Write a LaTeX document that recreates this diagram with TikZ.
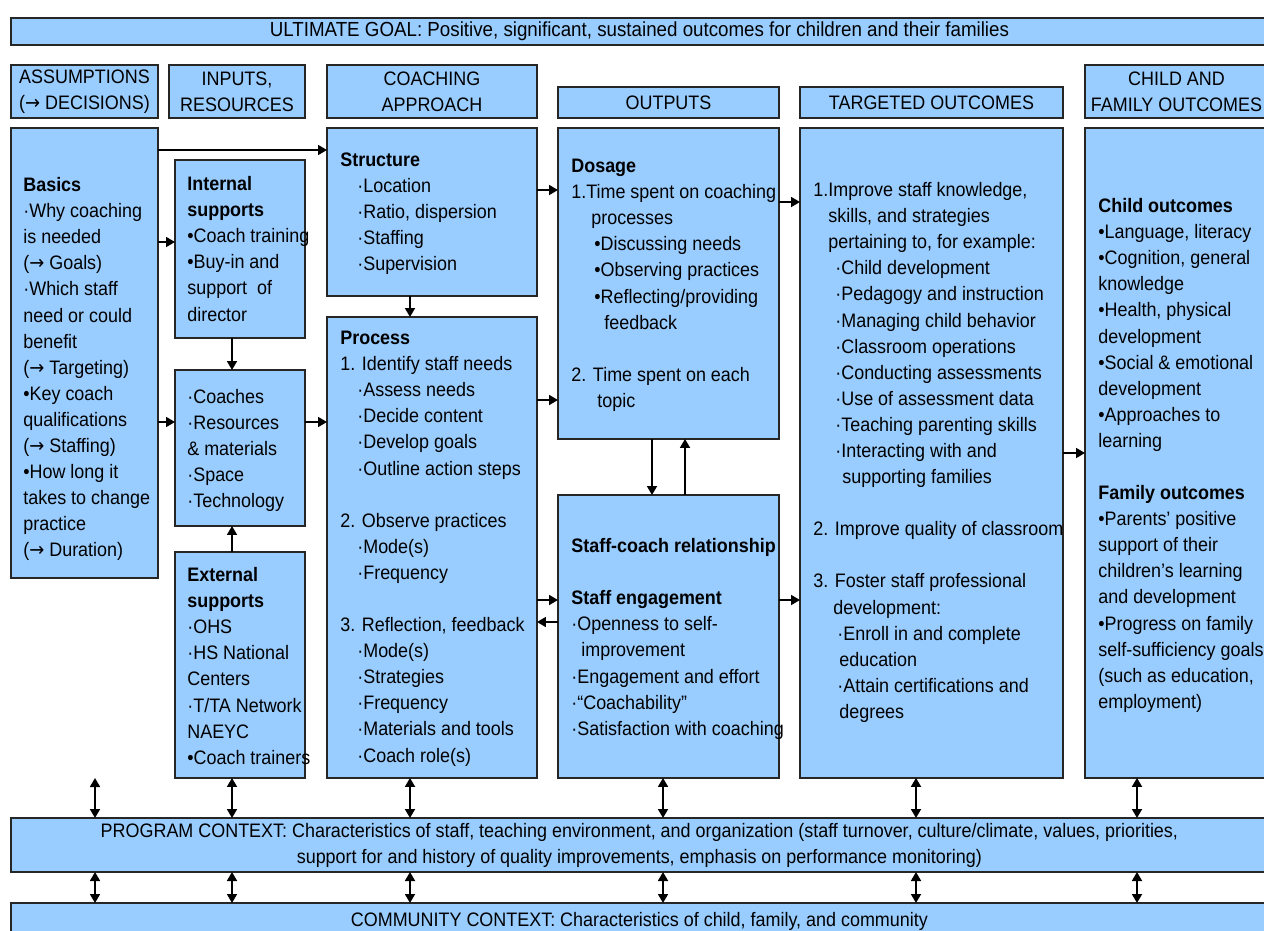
\documentclass[tikz,border=0pt]{standalone}
\usepackage{fontspec}
\setmainfont{Liberation Sans}[FakeStretch=0.92]
\newfontfamily\arrowfont{DejaVu Sans}[FakeStretch=0.92]
\newcommand\ra{{\arrowfont →}}
\usetikzlibrary{arrows.meta}
\definecolor{panelblue}{HTML}{99CCFF}

\tikzset{
    panel/.style={draw=black!85, fill=panelblue, line width=0.8pt, inner sep=0pt, outer sep=0pt, anchor=north west, align=center},
    txt/.style={anchor=north west, align=left, inner sep=0pt},
    arr/.style={-{Triangle[length=0.18cm,width=0.2cm]}, line width=1pt},
    dblarr/.style={{Triangle[length=0.18cm,width=0.2cm]}-{Triangle[length=0.18cm,width=0.2cm]}, line width=1pt}
}

\begin{document}
\begin{tikzpicture}[x=0.02cm, y=-0.02cm, every node/.style={font=\fontsize{11.1pt}{14.85pt}\selectfont}]

\useasboundingbox (0,0) rectangle (1264,930);

% Goal and column headers
\node[panel, minimum width=25.14cm, minimum height=0.54cm, font=\fontsize{11.6pt}{14.85pt}\selectfont] (goal) at (11,18) {ULTIMATE GOAL: Positive, significant, sustained outcomes for children and their families};
\node[panel, minimum width=2.94cm, minimum height=1.06cm] (assumehead) at (11,65) {ASSUMPTIONS\\(\ra\ DECISIONS)};
\node[panel, minimum width=2.72cm, minimum height=1.06cm] (inputhead) at (169,65) {INPUTS,\\RESOURCES};
\node[panel, minimum width=4.2cm, minimum height=1.06cm] (coachhead) at (327,65) {COACHING\\APPROACH};
\node[panel, minimum width=4.42cm, minimum height=0.62cm] (outputhead) at (558,87) {OUTPUTS};
\node[panel, minimum width=5.26cm, minimum height=0.62cm] (targethead) at (800,87) {TARGETED OUTCOMES};
\node[panel, minimum width=3.66cm, minimum height=1.06cm] (childhead) at (1085,65) {CHILD AND\\FAMILY OUTCOMES};

% Main boxes
\node[panel, minimum width=2.94cm, minimum height=9cm] (basics) at (11,128) {};
\node[panel, minimum width=2.6cm, minimum height=3.56cm] (internal) at (175,160) {};
\node[panel, minimum width=2.6cm, minimum height=3.12cm] (resources) at (175,370) {};
\node[panel, minimum width=2.6cm, minimum height=4.52cm] (external) at (175,552) {};
\node[panel, minimum width=4.2cm, minimum height=3.36cm] (structure) at (327,128) {};
\node[panel, minimum width=4.2cm, minimum height=9.22cm] (process) at (327,317) {};
\node[panel, minimum width=4.42cm, minimum height=6.22cm] (dosage) at (558,128) {};
\node[panel, minimum width=4.42cm, minimum height=5.66cm] (staff) at (558,495) {};
\node[panel, minimum width=5.26cm, minimum height=13cm] (targeted) at (800,128) {};
\node[panel, minimum width=3.66cm, minimum height=13cm] (child) at (1085,128) {};

% Context bars
\node[panel, minimum width=25.14cm, minimum height=1.08cm] (program) at (11,818) {PROGRAM CONTEXT: Characteristics of staff, teaching environment, and organization (staff turnover, culture/climate, values, priorities,\\support for and history of quality improvements, emphasis on performance monitoring)};
\node[panel, minimum width=25.14cm, minimum height=0.74cm] (community) at (11,903) {COMMUNITY CONTEXT: Characteristics of child, family, and community};

% Box texts
\node[txt] (basicstxt) at (23,173) {\strut\textbf{Basics}\\·Why coaching\\is needed\\(\ra\ Goals)\\·Which staff\\need or could\\benefit\\(\ra\ Targeting)\\•Key coach\\qualifications\\(\ra\ Staffing)\\•How long it\\takes to change\\practice\\(\ra\ Duration)};
\node[txt] (internaltxt) at (187,172) {\strut\textbf{Internal}\\\textbf{supports}\\•Coach training\\•Buy-in and\\support\ \ of\\director};
\node[txt] (resourcestxt) at (187,385) {\strut·Coaches\\·Resources\\\& materials\\·Space\\·Technology};
\node[txt] (externaltxt) at (187,563) {\strut\textbf{External}\\\textbf{supports}\\·OHS\\·HS National\\Centers\\·T/TA Network\\NAEYC\\•Coach trainers};
\node[txt] (structuretxt) at (340,148) {\strut\textbf{Structure}\\
    \hspace*{0.34cm}·Location\\\hspace*{0.34cm}·Ratio, dispersion\\\hspace*{0.34cm}·Staffing\\\hspace*{0.34cm}·Supervision};
\node[txt] (processtxt) at (340,326) {\strut\textbf{Process}\\1. Identify staff needs\\
    \hspace*{0.34cm}·Assess needs\\\hspace*{0.34cm}·Decide content\\\hspace*{0.34cm}·Develop goals\\\hspace*{0.34cm}·Outline action steps\\[14.85pt]
    2. Observe practices\\\hspace*{0.34cm}·Mode(s)\\\hspace*{0.34cm}·Frequency\\[14.85pt]
    3. Reflection, feedback\\\hspace*{0.34cm}·Mode(s)\\\hspace*{0.34cm}·Strategies\\\hspace*{0.34cm}·Frequency\\\hspace*{0.34cm}·Materials and tools\\\hspace*{0.34cm}·Coach role(s)};
\node[txt] (dosagetxt) at (571,154) {\strut\textbf{Dosage}\\1.Time spent on coaching\\\hspace*{0.4cm}processes\\
    \hspace*{0.46cm}•Discussing needs\\\hspace*{0.46cm}•Observing practices\\\hspace*{0.46cm}•Reflecting/providing\\\hspace*{0.66cm}feedback\\[14.85pt]
    2. Time spent on each\\\hspace*{0.52cm}topic};
\node[txt] (stafftxt) at (571,534) {\strut\textbf{Staff-coach relationship}\\[14.85pt]
    \textbf{Staff engagement}\\·Openness to self-\\\hspace*{0.2cm}improvement\\·Engagement and effort\\·“Coachability”\\·Satisfaction with coaching};
\node[txt] (targetedtxt) at (813,178) {\strut1.Improve staff knowledge,\\\hspace*{0.3cm}skills, and strategies\\\hspace*{0.3cm}pertaining to, for example:\\
    \hspace*{0.44cm}·Child development\\\hspace*{0.44cm}·Pedagogy and instruction\\\hspace*{0.44cm}·Managing child behavior\\\hspace*{0.44cm}·Classroom operations\\
    \hspace*{0.44cm}·Conducting assessments\\\hspace*{0.44cm}·Use of assessment data\\\hspace*{0.44cm}·Teaching parenting skills\\
    \hspace*{0.44cm}·Interacting with and\\\hspace*{0.58cm}supporting families\\[14.85pt]
    2. Improve quality of classroom\\[14.85pt]
    3. Foster staff professional\\\hspace*{0.4cm}development:\\\hspace*{0.48cm}·Enroll in and complete\\\hspace*{0.52cm}education\\
    \hspace*{0.48cm}·Attain certifications and\\\hspace*{0.52cm}degrees};
\node[txt] (childtxt) at (1098,194) {\strut\textbf{Child outcomes}\\•Language, literacy\\•Cognition, general\\knowledge\\•Health, physical\\development\\•Social \& emotional\\development\\•Approaches to\\learning\\[14.85pt]
    \textbf{Family outcomes}\\•Parents’ positive\\support of their\\children’s learning\\and development\\•Progress on family\\self-sufficiency goals\\(such as education,\\employment)};

% Connectors
\draw[arr] (basics.east |- 0,150) -- (structure.west |- 0,150);
\draw[arr] (basics.east |- 0,242) -- (internal.west |- 0,242);
\draw[arr] (basics.east |- 0,422) -- (resources.west |- 0,422);
\draw[arr] (internal.south -| 232,0) -- (resources.north -| 232,0);
\draw[arr] (external.north -| 232,0) -- (resources.south -| 232,0);
\draw[arr] (resources.east |- 0,422) -- (process.west |- 0,422);
\draw[arr] (structure.south -| 410,0) -- (process.north -| 410,0);
\draw[arr] (structure.east |- 0,190) -- (dosage.west |- 0,190);
\draw[arr] (process.east |- 0,400) -- (dosage.west |- 0,400);
\draw[arr] (process.east |- 0,600) -- (staff.west |- 0,600);
\draw[arr] (staff.west |- 0,622) -- (process.east |- 0,622);
\draw[arr] (dosage.south -| 652,0) -- (staff.north -| 652,0);
\draw[arr] (staff.north -| 685,0) -- (dosage.south -| 685,0);
\draw[arr] (dosage.east |- 0,202) -- (targeted.west |- 0,202);
\draw[arr] (staff.east |- 0,600) -- (targeted.west |- 0,600);
\draw[arr] (targeted.east |- 0,453) -- (child.west |- 0,453);

% Context arrows
\coordinate (freeend) at (95,778);
\draw[dblarr] (freeend) -- (program.north -| freeend);
\foreach \x/\src in {232/external, 410/process, 663/staff, 916/targeted, 1137/child}
{
    \draw[dblarr] (\src.south -| \x,0) -- (program.north -| \x,0);
}
\foreach \x in {95,232,410,663,916,1137}
{
    \draw[dblarr] (program.south -| \x,0) -- (community.north -| \x,0);
}

\end{tikzpicture}
\end{document}
